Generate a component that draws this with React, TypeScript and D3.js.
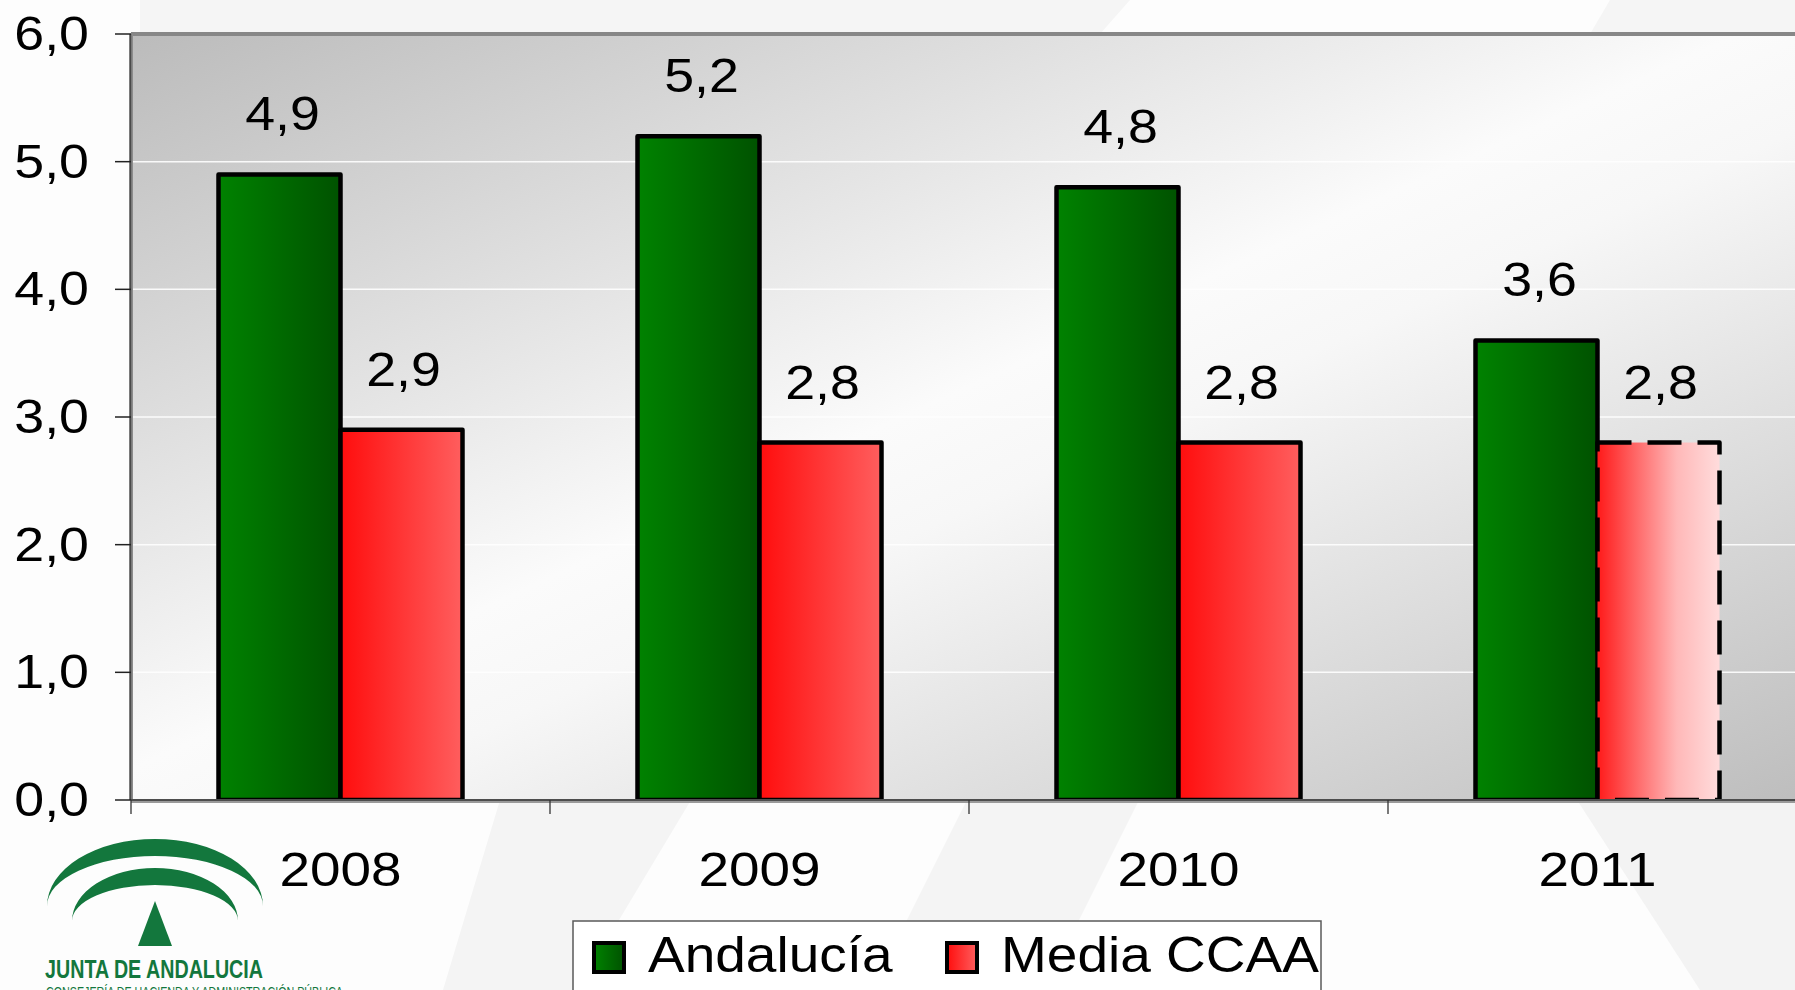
import React from 'react';
import * as d3 from 'd3';

// chart data
const years = ['2008', '2009', '2010', '2011'];
const andalucia = [4.9, 5.2, 4.8, 3.6];
const mediaCCAA = [2.9, 2.8, 2.8, 2.8];
const mediaProjected = [false, false, false, true];
const seriesNames = ['Andalucía', 'Media CCAA'];
const yTicks = [0, 1, 2, 3, 4, 5, 6];

const W = 1795;
const H = 990;
const plotLeft = 131;
const plotTop = 34;
const plotBottom = 800;
const bandW = 419;
const plotRight = plotLeft + bandW * years.length;
const barW = 122;
const FONT = '"Liberation Sans", Arial, sans-serif';
const SX = 1.12; // original text is a bit stretched horizontally

const es = d3.formatLocale({ decimal: ',', thousands: '.', grouping: [3], currency: ['', '€'] });
const fmt = es.format('.1f');

const Txt = ({ x, y, size, anchor = 'middle', sx = SX, children, fill = '#000' }: any) => (
  <text
    transform={`translate(${x},${y}) scale(${sx},1)`}
    textAnchor={anchor}
    fontFamily={FONT}
    fontSize={size}
    fill={fill}
  >
    {children}
  </text>
);

const App = () => {
  const y = d3.scaleLinear().domain([0, 6]).range([plotBottom, plotTop]);
  const x = d3.scaleBand().domain(years).range([plotLeft, plotRight]).padding(0);
  const off = (x.bandwidth() - barW * 2) / 2;
  const x1 = d3.scaleBand().domain(seriesNames).range([off, off + barW * 2]).padding(0);

  const logo = '#13773d';

  return (
    <svg width={W} height={H} style={{ position: 'absolute', left: 0, top: 0, display: 'block' }}>
      <defs>
        <linearGradient id="plotBg" x1="0" y1="0" x2="1" y2="1">
          <stop offset="0" stopColor="#bbbbbb" />
          <stop offset="0.48" stopColor="#fbfbfb" />
          <stop offset="0.56" stopColor="#f7f7f7" />
          <stop offset="1" stopColor="#bdbdbd" />
        </linearGradient>
        <linearGradient id="green" x1="0" y1="0" x2="1" y2="0">
          <stop offset="0" stopColor="#008200" />
          <stop offset="1" stopColor="#005200" />
        </linearGradient>
        <linearGradient id="red" x1="0" y1="0" x2="1" y2="0">
          <stop offset="0" stopColor="#ff0d0d" />
          <stop offset="1" stopColor="#ff5e5e" />
        </linearGradient>
        <linearGradient id="redFade" x1="0" y1="0" x2="1" y2="0">
          <stop offset="0" stopColor="#ff1a1a" />
          <stop offset="0.35" stopColor="#ff7070" />
          <stop offset="0.65" stopColor="#ffb8b8" />
          <stop offset="1" stopColor="#ffdcdc" />
        </linearGradient>
      </defs>

      {/* slide background */}
      <rect x={0} y={0} width={W} height={H} fill="#fdfdfd" />
      <polygon points="140,0 1130,0 1100,34 140,34" fill="#f5f5f5" />
      <polygon points="1610,0 1795,0 1795,34 1590,34" fill="#f5f5f5" />
      <polygon points="500,800 691,800 577,990 443,990" fill="#f4f4f4" />
      <polygon points="967,800 1139,800 1044,990 872,990" fill="#f4f4f4" />
      <polygon points="1577,800 1795,800 1795,990 1700,990" fill="#f3f3f3" />

      {/* plot area */}
      <rect x={plotLeft} y={plotTop} width={plotRight - plotLeft} height={plotBottom - plotTop} fill="url(#plotBg)" />
      {yTicks.slice(1, -1).map((t) => (
        <line key={t} x1={plotLeft} x2={plotRight} y1={y(t)} y2={y(t)} stroke="#ffffff" strokeWidth={1.5} opacity={0.9} />
      ))}
      <line x1={plotLeft} x2={W} y1={plotTop} y2={plotTop} stroke="#878787" strokeWidth={4} />
      <line x1={plotLeft} x2={plotLeft} y1={plotTop} y2={plotBottom} stroke="#8c8c8c" strokeWidth={4} />
      <line x1={plotLeft - 0.5} x2={plotLeft - 0.5} y1={plotTop} y2={plotBottom} stroke="#4a4a4a" strokeWidth={1.5} />

      {/* bars */}
      {years.map((yr, i) => {
        const bx = x(yr)!;
        const gx = bx + x1('Andalucía')!;
        const rx = bx + x1('Media CCAA')!;
        return (
          <g key={yr}>
            <rect x={gx} y={y(andalucia[i])} width={barW} height={plotBottom - y(andalucia[i])}
              fill="url(#green)" stroke="#000" strokeWidth={4.5} strokeLinejoin="round" />
            <rect x={rx} y={y(mediaCCAA[i])} width={barW} height={plotBottom - y(mediaCCAA[i])}
              fill={mediaProjected[i] ? 'url(#redFade)' : 'url(#red)'} stroke="#000" strokeWidth={4.5}
              strokeLinejoin="round" strokeDasharray={mediaProjected[i] ? '34 16' : undefined} />
          </g>
        );
      })}

      {/* axis lines and ticks */}
      <line x1={plotLeft} x2={W} y1={plotBottom + 2} y2={plotBottom + 2} stroke="#9a9a9a" strokeWidth={2} />
      <line x1={plotLeft} x2={W} y1={plotBottom} y2={plotBottom} stroke="#4d4d4d" strokeWidth={2} />
      {yTicks.map((t) => (
        <line key={t} x1={plotLeft - 16} x2={plotLeft} y1={y(t)} y2={y(t)} stroke="#222" strokeWidth={1.5} />
      ))}
      {[...years.map((yr) => x(yr)!), plotRight].map((px, i) => (
        <line key={i} x1={px} x2={px} y1={plotBottom} y2={plotBottom + 14} stroke="#333" strokeWidth={1.3} />
      ))}

      {/* y tick labels */}
      {yTicks.map((t) => (
        <Txt key={t} x={89} y={y(t) + 16} size={48} anchor="end">{fmt(t)}</Txt>
      ))}

      {/* value labels */}
      {years.map((yr, i) => {
        const bx = x(yr)!;
        return (
          <g key={yr}>
            <Txt x={bx + x1('Andalucía')! + barW / 2 + 3} y={y(andalucia[i]) - 44} size={48}>{fmt(andalucia[i])}</Txt>
            <Txt x={bx + x1('Media CCAA')! + barW / 2 + 2} y={y(mediaCCAA[i]) - 44} size={48}>{fmt(mediaCCAA[i])}</Txt>
          </g>
        );
      })}

      {/* category labels */}
      {years.map((yr) => (
        <Txt key={yr} x={x(yr)! + x.bandwidth() / 2} y={886} size={49}>{yr}</Txt>
      ))}

      {/* legend */}
      <rect x={573} y={921} width={748} height={80} fill="#ffffff" stroke="#5a5a5a" strokeWidth={1.5} />
      <rect x={594} y={943} width={30} height={29} fill="url(#green)" stroke="#000" strokeWidth={4} />
      <Txt x={648} y={972} size={50} anchor="start" sx={1.1}>{seriesNames[0]}</Txt>
      <rect x={947} y={943} width={30} height={29} fill="url(#red)" stroke="#000" strokeWidth={4} />
      <Txt x={1001} y={972} size={50} anchor="start" sx={1.1}>{seriesNames[1]}</Txt>

      {/* logo */}
      <g fill={logo}>
        <path d="M47,906 A108,67 0 0 1 263,906 A108,50 0 0 0 47,906 Z" />
        <path d="M72,921 A83,53 0 0 1 238,921 A83,36 0 0 0 72,921 Z" />
        <path d="M155,901 L172,946 L138,946 Z" />
        <text x={45} y={978} fontFamily='"Liberation Sans Narrow", "Liberation Sans", sans-serif' fontSize={25}
          fontWeight="bold" textLength={218} lengthAdjust="spacingAndGlyphs">JUNTA DE ANDALUCIA</text>
        <text x={46} y={997} fontFamily={FONT} fontSize={15} textLength={297}
          lengthAdjust="spacingAndGlyphs">CONSEJERÍA DE HACIENDA Y ADMINISTRACIÓN PÚBLICA</text>
      </g>
    </svg>
  );
};

export default App;
